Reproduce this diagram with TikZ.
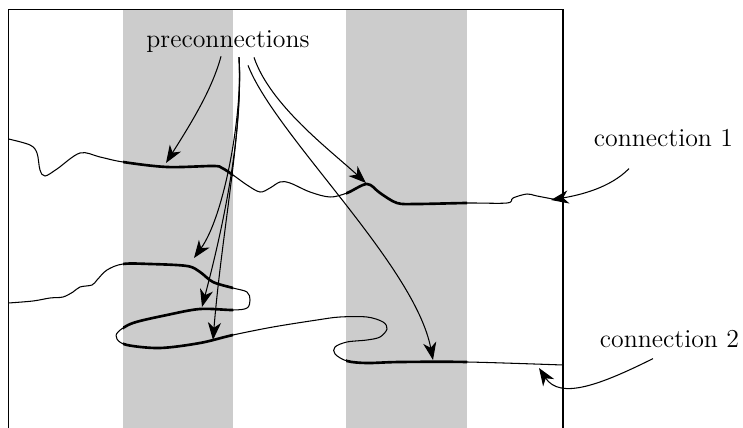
\documentclass[tikz,border=0pt]{standalone}
\usepackage{tikz}
\usetikzlibrary{calc,arrows.meta}

\tikzset{
	conn/.style={line width=0.6pt},
	connthick/.style={line width=1.5pt},
	band/.style={fill=black!20},
	lbl/.style={inner sep=0pt, anchor=base, font=\fontsize{14.7}{17}\selectfont},
	pointer/.style={->, line width=0.6pt},
	>={Stealth[length=10pt,width=7.5pt,inset=3pt]}
}

\newcommand{\connone}{plot[smooth, tension=0.55] coordinates {
	(8.5,139) (30,145) (37,153) (40,170) (45,176) (57,169) (80,153) (100,157)
	(123,162) (167,167) (213,166) (222,168) (233,175) (247,185) (260,192)
	(270,188) (280,182) (290,183) (310,192) (330,197) (347,193) (367,184)
	(380,193) (397,203) (417,204) (467,203) (507,203) (513,198) (527,194)
	(537,196) (563,201)}}
\newcommand{\conntwo}{plot[smooth, tension=0.55] coordinates {
	(8.5,303) (33,301) (50,298) (63,297) (73,292) (80,287) (92,285) (97,280)
	(107,270) (123,264) (150,264) (187,266) (200,272) (213,282) (233,288)
	(247,292) (250,300) (247,308) (233,310) (200,309) (167,315) (133,323)
	(118,332) (117,339) (127,345) (160,348) (200,343) (233,335) (273,327)
	(317,320) (340,317) (367,317) (383,322) (387,329) (380,337) (367,340)
	(347,342) (335,347) (335,354) (347,361) (367,363) (400,362) (467,362)
	(563,365)}}

\begin{document}
\begin{tikzpicture}[x=0.02cm, y=-0.02cm]
\useasboundingbox (0,0) rectangle (743,428);

\foreach \xa/\xb in {123/233, 346/467}{
	\fill[band] (\xa,9.5) rectangle (\xb,430);
}
\draw[line width=0.6pt] (8.5,430) -- (8.5,9.5) -- (563,9.5) -- (563,430);

% connections
\draw[conn] \connone;
\draw[conn] \conntwo;

\begin{scope}
	\clip (123,0) rectangle (233,428) (346,0) rectangle (467,428);
	\draw[connthick] \connone;
\end{scope}
\begin{scope}
	\clip (123,0) rectangle (233,428) (346,352) rectangle (467,428);
	\draw[connthick] \conntwo;
\end{scope}

% labels
\node[lbl] (pre) at (228,48) {preconnections};
\node[lbl] (c1) at (663.5,147) {connection 1};
\node[lbl] (c2) at (669.5,348) {connection 2};

\coordinate (t1) at (166,163);
\coordinate (t2) at (194,258);
\coordinate (t3) at (202,307);
\coordinate (t4) at (213,340);
\coordinate (t5) at (366,183);
\coordinate (t6) at (433,360);
\coordinate (e1) at (551,200);
\coordinate (e2) at (539,368);

\draw[pointer] ($(pre.south)+(-7,3)$) .. controls (212,90) and (190,125) .. (t1);
\draw[pointer] ($(pre.south)+(11,4)$) .. controls (243,110) and (225,215) .. (t2);
\draw[pointer] ($(pre.south)+(11,4)$) .. controls (243,130) and (225,220) .. (t3);
\draw[pointer] ($(pre.south)+(11,4)$) .. controls (243,130) and (222,230) .. (t4);
\draw[pointer] ($(pre.south)+(26,4)$) .. controls (270,105) and (330,150) .. (t5);
\draw[pointer] ($(pre.south)+(20,12)$) .. controls (275,135) and (415,265) .. (t6);

%\draw[pointer] (629,168) -- (e1);
\draw[pointer] ($(c1.south)+(-34.5,21)$) .. controls (610,188) and (580,195) .. (e1);
\draw[pointer] ($(c2.south)+(-16.5,10)$) .. controls (600,385) and (560,400) .. (e2);

\end{tikzpicture}
\end{document}
